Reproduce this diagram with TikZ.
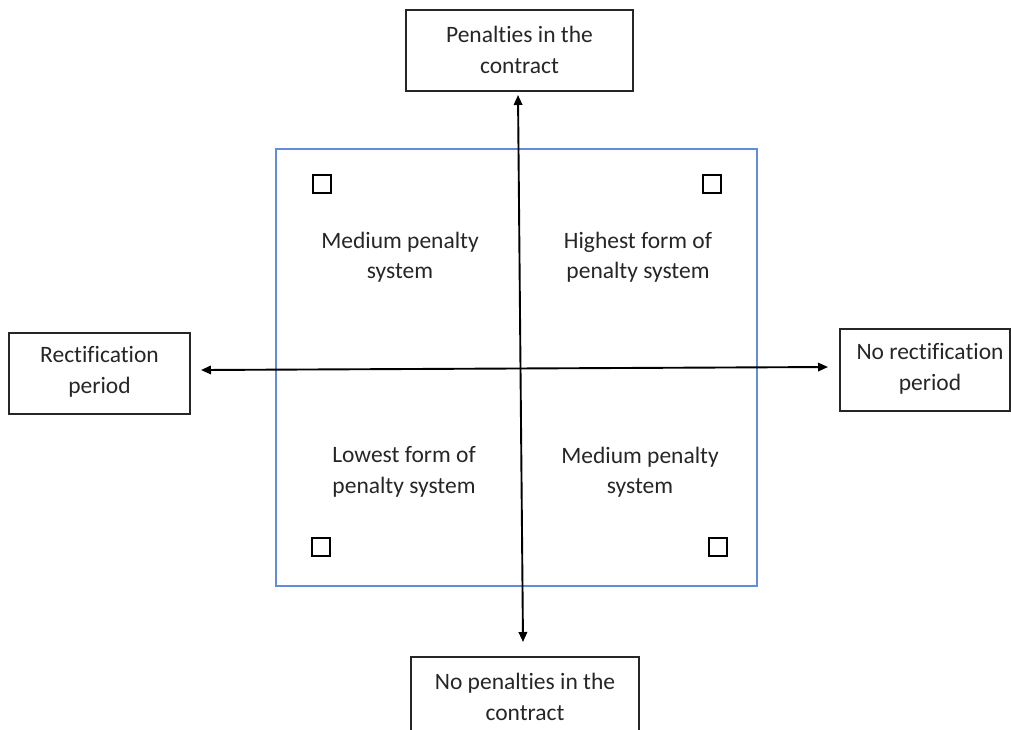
\documentclass[tikz,border=0pt]{standalone}
\usepackage{fontspec}
\setmainfont{Carlito}[Ligatures=NoCommon]
\usetikzlibrary{arrows.meta}
\definecolor{frameblue}{RGB}{100,140,220}
\definecolor{txt}{RGB}{38,38,38}
\begin{document}
\begin{tikzpicture}[x=1pt,y=-1pt,
  lbl/.style={text=txt,align=center,font=\fontsize{23.5}{30.5}\selectfont,inner sep=0pt},
  sidebox/.style={draw=black!85,line width=1.3pt,rectangle},
  tick/.style={draw=black,line width=2pt,minimum size=18pt,inner sep=0pt,rectangle},
  axis/.style={draw=black,line width=1.9pt,{Triangle[length=10pt,width=8.5pt]}-{Triangle[length=10pt,width=8.5pt]}}]
\useasboundingbox (0,0) rectangle (1011,729);
% blue frame
\draw[frameblue,line width=1.5pt] (276,149) rectangle (757,586);
% side boxes
\draw[sidebox] (406,10) rectangle (633,91);
\node[lbl] (top) at (519.5,50) {Penalties in the\\contract};
\draw[sidebox] (9,333) rectangle (190,414);
\node[lbl] (left) at (99.5,372) {Rectification\\period};
\draw[sidebox] (840,329) rectangle (1010,411);
\node[lbl] (right) at (930,369) {No rectification\\period};
\draw[sidebox] (411,657) rectangle (639,760);
\node[lbl] (bottom) at (525,697) {No penalties in the\\contract};
% axes
\coordinate (vt) at (518,95);
\coordinate (vb) at (523,642);
\coordinate (hl) at (201,370);
\coordinate (hr) at (828,367);
\draw[axis] (vt) -- (vb);
\draw[axis] (hl) -- (hr);
% quadrant labels
\node[lbl] (q1) at (400,257) {Medium penalty\\system};
\node[lbl] (q2) at (638,257) {Highest form of\\penalty system};
\node[lbl] (q3) at (404,472) {Lowest form of\\penalty system};
\node[lbl] (q4) at (640,472) {Medium penalty\\system};
% small squares
\node[tick] (s1) at (321.5,183.5) {};
\node[tick] (s2) at (711.5,183.5) {};
\node[tick] (s3) at (320.5,546.5) {};
\node[tick] (s4) at (718,546.5) {};
\end{tikzpicture}
\end{document}
